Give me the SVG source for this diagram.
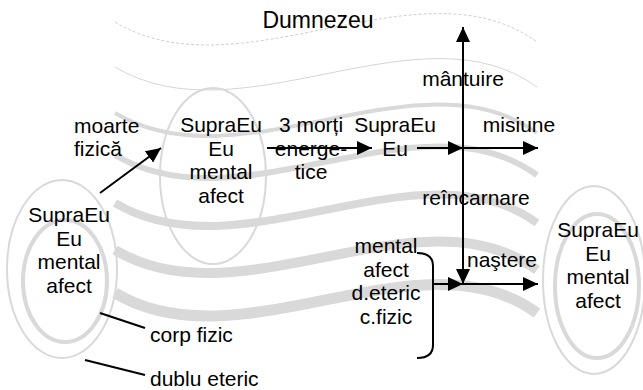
<svg xmlns="http://www.w3.org/2000/svg" xmlns:xlink="http://www.w3.org/1999/xlink" width="643" height="390" viewBox="0 0 643 390">
<style>
text{font-family:"Liberation Sans",Arial,sans-serif;font-size:21px;fill:#000}
.m{text-anchor:middle}
.band{fill:none;stroke:#d9d9d9}
.ell{fill:none;stroke:#d9d9d9}
.ln{fill:none;stroke:#000;stroke-width:2}
.ar{fill:none;stroke:#000;stroke-width:2;marker-end:url(#ah)}
</style>
<defs>
<path id="wave" d="M115,0 C240,75 420,-65 537,20"/>
<marker id="ah" markerWidth="15" markerHeight="14" refX="15" refY="7" orient="auto" markerUnits="userSpaceOnUse">
<path d="M0,0 L15,7 L0,14 Z" fill="#000"/>
</marker>
</defs>
<rect width="643" height="390" fill="#fff"/>
<g id="bands">
<use xlink:href="#wave" y="22" class="band" stroke-width="1" stroke-dasharray="3,2" style="stroke:#cfcfcf"/>
<use xlink:href="#wave" y="67" class="band" stroke-width="1" style="stroke:#d6d6d6"/>
<use xlink:href="#wave" y="113" class="band" stroke-width="4"/>
<use xlink:href="#wave" y="155" class="band" stroke-width="6"/>
<use xlink:href="#wave" y="203" class="band" stroke-width="8"/>
<use xlink:href="#wave" y="250" class="band" stroke-width="10"/>
<use xlink:href="#wave" y="293" class="band" stroke-width="11"/>
</g>
<g id="left-body">
<ellipse class="ell" cx="62" cy="269" rx="55" ry="89" stroke-width="2"/>
<ellipse class="ell" cx="65" cy="281" rx="42" ry="61" stroke-width="4"/>
<text class="m"><tspan x="69" y="222">SupraEu</tspan><tspan x="69" y="245.5">Eu</tspan><tspan x="69" y="269">mental</tspan><tspan x="69" y="292.5">afect</tspan></text>
</g>
<g id="middle-body">
<ellipse class="ell" cx="213" cy="176" rx="53" ry="88" stroke-width="2"/>
<text class="m"><tspan x="221" y="132">SupraEu</tspan><tspan x="221" y="155.5">Eu</tspan><tspan x="221" y="179">mental</tspan><tspan x="221" y="202.5">afect</tspan></text>
</g>
<g id="right-body">
<ellipse class="ell" cx="594" cy="280" rx="51" ry="94" stroke-width="2"/>
<ellipse class="ell" cx="597" cy="286" rx="42" ry="72" stroke-width="4"/>
<text class="m"><tspan x="598" y="237">SupraEu</tspan><tspan x="598" y="260.5">Eu</tspan><tspan x="598" y="284">mental</tspan><tspan x="598" y="307.5">afect</tspan></text>
</g>
<g id="dumnezeu"><text class="m" x="318" y="28" style="font-size:23px">Dumnezeu</text></g>
<g id="moarte"><text><tspan x="74" y="133">moarte</tspan><tspan x="74" y="156">fizică</tspan></text></g>
<g id="morti"><text class="m"><tspan x="311" y="132">3 morți</tspan><tspan x="311" y="155.5">energe-</tspan><tspan x="311" y="179">tice</tspan></text></g>
<g id="supraeu-eu"><text class="m"><tspan x="395" y="132">SupraEu</tspan><tspan x="395" y="155.5">Eu</tspan></text></g>
<g id="mantuire"><text class="m" x="463" y="86">mântuire</text></g>
<g id="misiune"><text class="m" x="519" y="132">misiune</text></g>
<g id="reincarnare"><text class="m" x="476" y="205">reîncarnare</text></g>
<g id="nastere"><text class="m" x="502" y="267">naştere</text></g>
<g id="bundle"><text class="m"><tspan x="386" y="253">mental</tspan><tspan x="386" y="276.5">afect</tspan><tspan x="386" y="300">d.eteric</tspan><tspan x="386" y="323.5">c.fizic</tspan></text></g>
<g id="corp-fizic"><text x="150" y="342">corp fizic</text></g>
<g id="dublu-eteric"><text x="150" y="386">dublu eteric</text></g>
<g id="connectors">
<line class="ar" x1="100" y1="193" x2="161" y2="148"/>
<line class="ar" x1="267" y1="148" x2="372" y2="148"/>
<line class="ar" x1="417" y1="148" x2="463" y2="148"/>
<line class="ar" x1="463" y1="148" x2="538" y2="148"/>
<line class="ar" x1="463" y1="148" x2="463" y2="27"/>
<line class="ar" x1="463" y1="148" x2="463" y2="284"/>
<path class="ln" d="M417,253 Q433,253 433,266 L433,345 Q433,358 417,358"/>
<line class="ar" x1="433" y1="284" x2="463" y2="284"/>
<line class="ar" x1="463" y1="284" x2="538" y2="284"/>
<line class="ln" x1="100" y1="313" x2="145" y2="328"/>
<line class="ln" x1="85" y1="360" x2="145" y2="375"/>
</g>
</svg>
